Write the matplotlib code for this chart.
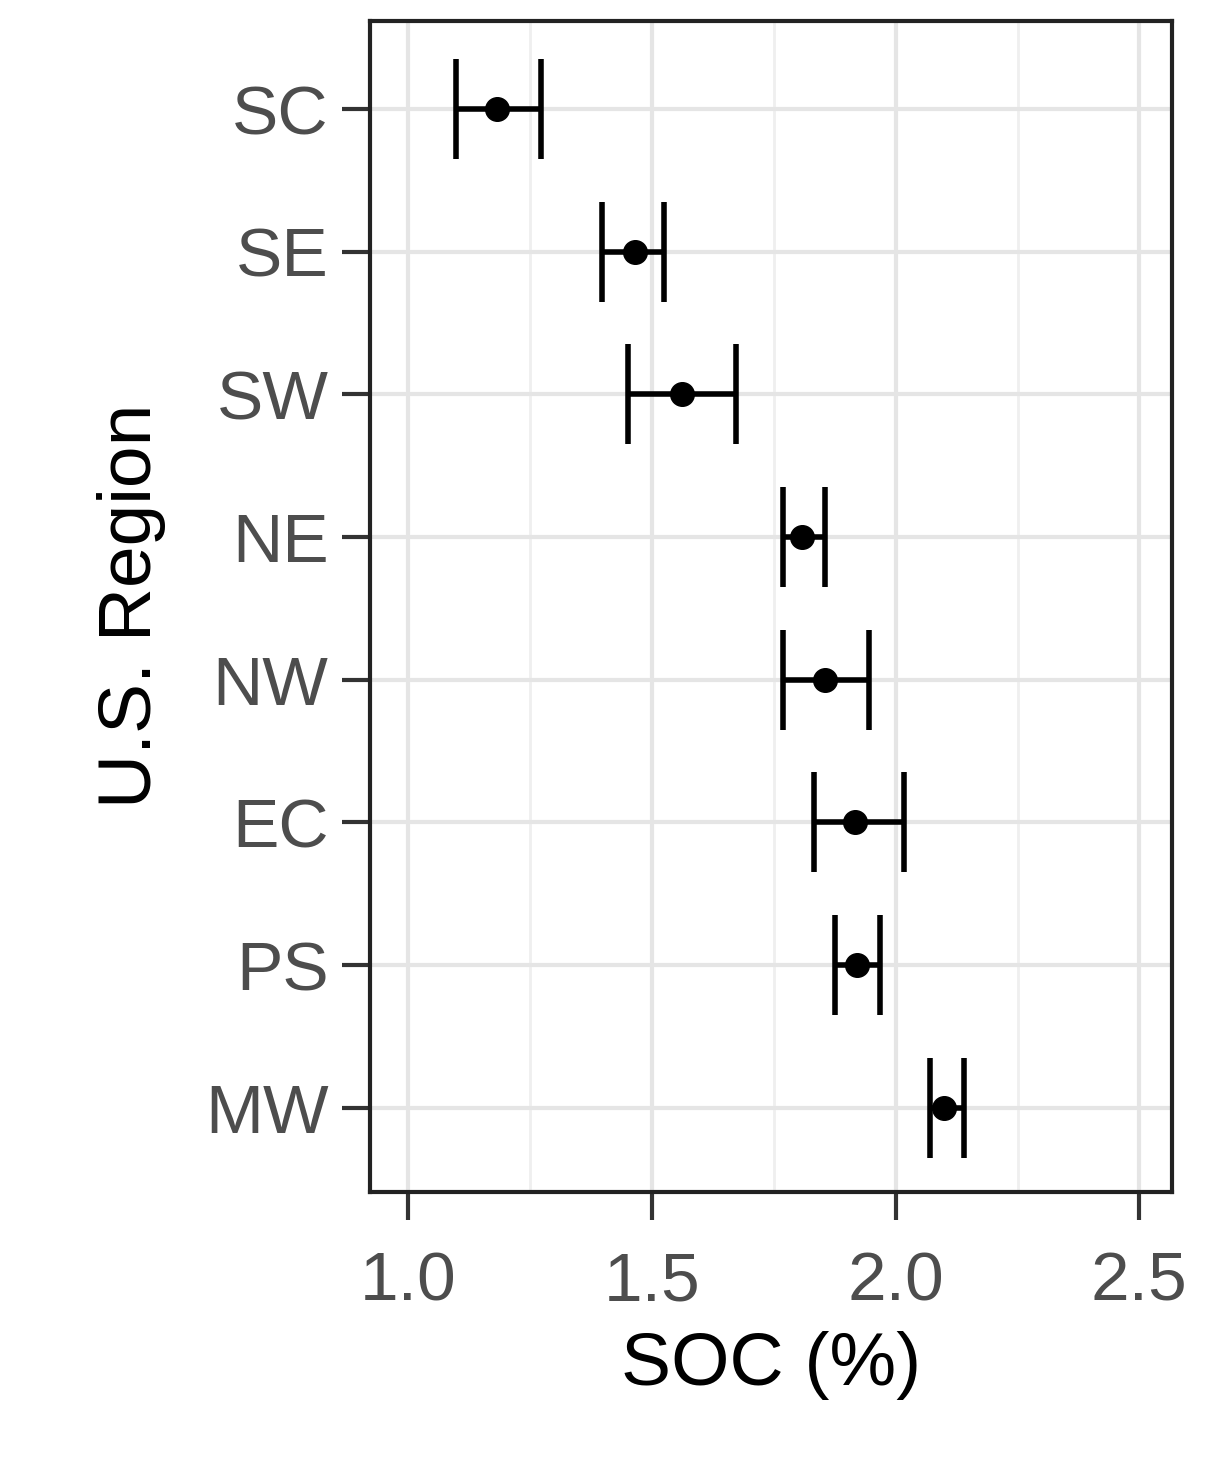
import matplotlib
matplotlib.use("Agg")
import matplotlib.pyplot as plt
from matplotlib.ticker import MultipleLocator

plt.rcParams['font.family'] = ['Liberation Sans', 'DejaVu Sans']

regions = ["SC", "SE", "SW", "NE", "NW", "EC", "PS", "MW"]
soc = [1.182, 1.465, 1.561, 1.807, 1.855, 1.916, 1.920, 2.100]
lower = [1.098, 1.398, 1.451, 1.768, 1.768, 1.832, 1.875, 2.070]
upper = [1.273, 1.525, 1.672, 1.855, 1.945, 2.018, 1.967, 2.141]

fig = plt.figure(figsize=(12.1, 14.77), dpi=100)
ax = fig.add_axes([0.306, 0.193, 0.663, 0.793])
n = len(regions)
ys = [n - 1 - i for i in range(n)]
xerr = [[s - l for s, l in zip(soc, lower)], [u - s for s, u in zip(soc, upper)]]
ax.errorbar(soc, ys, xerr=xerr, fmt='o', color='black', ms=17, elinewidth=4,
            capsize=36, capthick=4, zorder=3)
ax.set_xlim(0.922, 2.568)
ax.set_ylim(-0.59, n - 1 + 0.62)
ax.set_yticks(ys)
ax.set_yticklabels(regions)
ax.xaxis.set_minor_locator(MultipleLocator(0.25))
ax.set_xticks([1.0, 1.5, 2.0, 2.5])
ax.set_xticklabels(["1.0", "1.5", "2.0", "2.5"])
ax.grid(which='major', color='#E5E5E5', lw=3)
ax.grid(which='minor', axis='x', color='#EFEFEF', lw=2)
ax.set_axisbelow(True)
ax.tick_params(which='major', length=20, width=3, color='#333333', labelsize=50,
               labelcolor='#4D4D4D', pad=10)
ax.tick_params(axis='x', pad=22)
ax.tick_params(which='minor', length=0)
for s in ax.spines.values():
    s.set_linewidth(3)
    s.set_color('#222222')
ax.set_xlabel("SOC (%)", fontsize=54, labelpad=12)
ax.set_ylabel("U.S. Region", fontsize=54, labelpad=28)
fig.savefig("out.png", dpi=100)
